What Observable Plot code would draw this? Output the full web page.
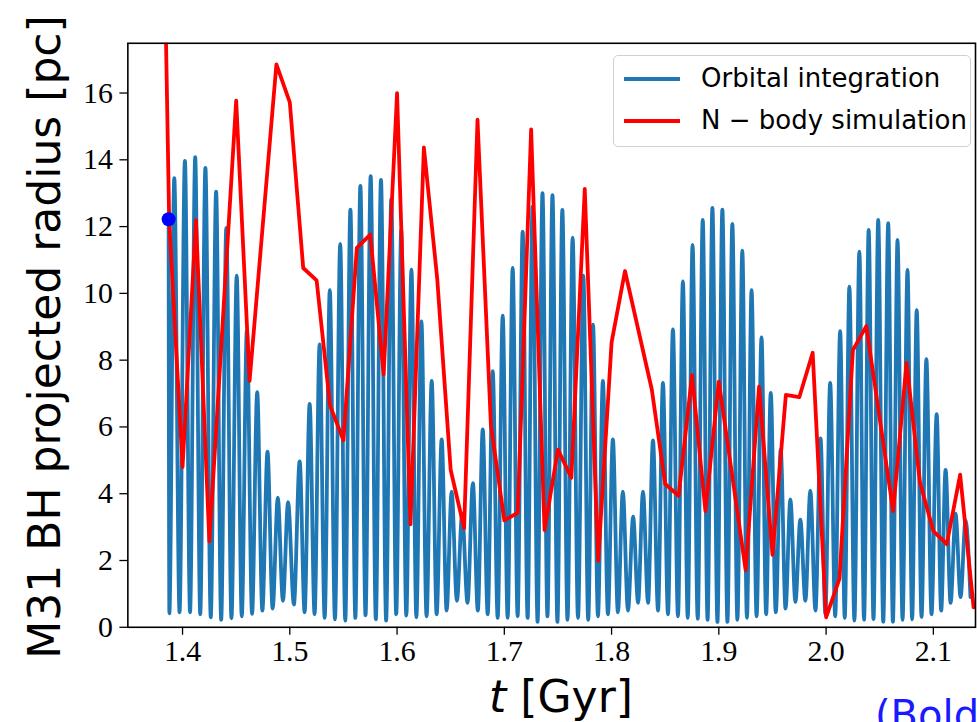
<!DOCTYPE html>
<html>
<head>
<meta charset="utf-8">
<script src="https://cdn.jsdelivr.net/npm/d3@7"></script>
<script src="https://cdn.jsdelivr.net/npm/@observablehq/plot@0.6"></script>
<style>
  html, body { margin: 0; padding: 0; background: #fff; }
  #wrap { position: relative; width: 977px; height: 722px; overflow: hidden; background: #fff; }
  #chart { position: absolute; left: 0; top: 0; }
  .ylab { position: absolute; left: 45px; top: 337px; transform: translate(-50%, -50%) rotate(-90deg);
          white-space: nowrap; font-family: "DejaVu Sans"; font-size: 44px; line-height: 1; color: #000; }
  .xlab { position: absolute; left: 561px; top: 675px; transform: translateX(-50%);
          white-space: nowrap; font-family: "DejaVu Sans"; font-size: 44px; line-height: 1; color: #000; }
  .xlab i { font-style: oblique; }
  .cite { position: absolute; left: 875px; top: 695px; white-space: nowrap; font-family: "DejaVu Sans";
          font-size: 40px; line-height: 1; color: #1a1aff; }
  .legend { position: absolute; left: 613px; top: 55px; width: 358px; height: 92px; box-sizing: border-box;
            border: 1.3px solid #d0d0d0; border-radius: 5px; background: rgba(255,255,255,0.85);
            font-family: "DejaVu Sans"; font-size: 26px; color: #000; }
  .legend .row { position: absolute; left: 0; height: 30px; display: flex; align-items: center; }
  .legend .sw { position: absolute; left: 10px; width: 56px; height: 4px; }
  .legend .tx { position: absolute; left: 87px; white-space: nowrap; line-height: 1; }
</style>
</head>
<body>
<div id="wrap">
  <div id="chart"></div>
  <div class="ylab">M31 BH projected radius [pc]</div>
  <div class="xlab"><i>t</i> [Gyr]</div>
  <div class="cite">(Boldrini et al.)</div>
  <div class="legend" id="legend"></div>
</div>
<script>
// ---- Data ----
const xTicks = [1.4, 1.5, 1.6, 1.7, 1.8, 1.9, 2.0, 2.1];
const yTicks = [0, 2, 4, 6, 8, 10, 12, 14, 16];

const seriesNames = ["Orbital integration", "N \u2212 body simulation"];

// Orbital integration: starting point (also marked with a dot)
const orbitStartT = 1.3870;
const orbitStartR = 12.22;

// Orbital integration: peaks
const peakT = [1.3923, 1.4022, 1.4118, 1.4213, 1.4313, 1.4408, 1.4505, 1.4600, 1.4696, 1.4792,
  1.4888, 1.4984, 1.5092, 1.5185, 1.5278, 1.5373, 1.5470, 1.5565, 1.5658, 1.5754,
  1.5850, 1.5946, 1.6039, 1.6134, 1.6227, 1.6323, 1.6416, 1.6509, 1.6607, 1.6707,
  1.6799, 1.6892, 1.6985, 1.7078, 1.7171, 1.7263, 1.7356, 1.7449, 1.7541, 1.7637,
  1.7737, 1.7827, 1.7919, 1.8012, 1.8105, 1.8201, 1.8293, 1.8386, 1.8479, 1.8572,
  1.8665, 1.8755, 1.8850, 1.8940, 1.9033, 1.9126, 1.9219, 1.9305, 1.9398, 1.9484,
  1.9577, 1.9667, 1.9760, 1.9853, 1.9948, 2.0038, 2.0131, 2.0217, 2.0310, 2.0397,
  2.0486, 2.0579, 2.0666, 2.0759, 2.0845, 2.0935, 2.1031, 2.1114, 2.1207, 2.1300];
const peakR = [13.45, 13.97, 14.08, 13.76, 13.05, 11.96, 10.53, 8.9, 7.04, 5.26,
  3.88, 3.75, 4.97, 6.69, 8.47, 10.10, 11.48, 12.51, 13.22, 13.51,
  13.40, 12.82, 11.9, 10.71, 9.16, 7.38, 5.63, 4.06, 3.4, 4.32,
  5.93, 7.67, 9.33, 10.76, 11.85, 12.6, 13.0, 12.94, 12.5, 11.67,
  10.53, 9.06, 7.38, 5.63, 4.06, 3.31, 4.06, 5.6, 7.32, 8.92,
  10.36, 11.45, 12.2, 12.56, 12.51, 12.08, 11.28, 10.1, 8.68, 7.02,
  5.32, 3.83, 3.22, 4.09, 5.66, 7.32, 8.87, 10.2, 11.25, 11.9,
  12.2, 12.1, 11.6, 10.7, 9.5, 8.03, 6.38, 4.71, 3.4, 3.2];

// Orbital integration: troughs
const troughT = [1.3877, 1.3972, 1.4070, 1.4165, 1.4263, 1.4360, 1.4456, 1.4552, 1.4648, 1.4744,
  1.4840, 1.4936, 1.5038, 1.5138, 1.5231, 1.5325, 1.5421, 1.5517, 1.5611, 1.5706,
  1.5802, 1.5898, 1.5992, 1.6086, 1.6180, 1.6275, 1.6369, 1.6462, 1.6558, 1.6657,
  1.6753, 1.6845, 1.6938, 1.7031, 1.7124, 1.7217, 1.7310, 1.7402, 1.7495, 1.7589,
  1.7687, 1.7782, 1.7873, 1.7966, 1.8059, 1.8153, 1.8247, 1.8340, 1.8433, 1.8526,
  1.8619, 1.8710, 1.8803, 1.8895, 1.8987, 1.9080, 1.9173, 1.9262, 1.9352, 1.9441,
  1.9531, 1.9622, 1.9714, 1.9807, 1.9901, 1.9993, 2.0085, 2.0174, 2.0264, 2.0354,
  2.0442, 2.0533, 2.0623, 2.0713, 2.0802, 2.0890, 2.0983, 2.1073, 2.1161, 2.1254, 2.1346];
const troughR = [0.42, 0.45, 0.45, 0.39, 0.3, 0.22, 0.27, 0.33, 0.4, 0.5,
  0.56, 0.79, 0.68, 0.45, 0.39, 0.28, 0.24, 0.2, 0.28, 0.36,
  0.24, 0.2, 0.39, 0.35, 0.3, 0.33, 0.39, 0.5, 0.79, 0.73,
  0.5, 0.39, 0.28, 0.28, 0.33, 0.28, 0.16, 0.33, 0.16, 0.22,
  0.28, 0.22, 0.33, 0.39, 0.45, 0.5, 0.73, 0.73, 0.5, 0.39,
  0.33, 0.28, 0.25, 0.22, 0.16, 0.16, 0.22, 0.28, 0.33, 0.39,
  0.45, 0.56, 0.76, 0.79, 0.5, 0.4, 0.33, 0.28, 0.2, 0.22,
  0.24, 0.16, 0.16, 0.22, 0.24, 0.31, 0.39, 0.5, 0.73, 0.9, 0.9];

// N-body simulation
const nbodyT = [1.375, 1.3875, 1.4, 1.4125, 1.425, 1.45, 1.4625, 1.4875, 1.5, 1.5125,
  1.525, 1.5375, 1.55, 1.5625, 1.575, 1.5875, 1.6, 1.6125, 1.625, 1.6375,
  1.65, 1.6625, 1.675, 1.6875, 1.7, 1.7125, 1.725, 1.7375, 1.75, 1.7625,
  1.775, 1.7875, 1.8, 1.8125, 1.8375, 1.85, 1.8625, 1.875, 1.8875, 1.9,
  1.925, 1.9375, 1.95, 1.9625, 1.975, 1.9875, 2.0, 2.0125, 2.025, 2.0375,
  2.0625, 2.075, 2.0875, 2.1, 2.1125, 2.125, 2.1375];
const nbodyR = [35, 12.22, 4.8, 12.19, 2.57, 15.77, 7.38, 16.86, 15.72, 10.76,
  10.39, 6.64, 5.6, 11.36, 11.76, 7.57, 16.0, 3.08, 14.37, 10.42,
  4.71, 2.97, 15.2, 6.06, 3.2, 3.43, 14.91, 2.91, 5.32, 4.48,
  13.13, 1.99, 8.53, 10.67, 7.12, 4.29, 3.94, 7.55, 3.48, 7.36,
  1.71, 7.21, 2.17, 6.96, 6.89, 8.22, 0.30, 1.46, 8.30, 9.02,
  3.48, 7.92, 4.34, 2.88, 2.49, 4.57, 0.6];

const colors = ["#1f77b4", "#ff0000"];

// ---- Build tables ----
const orbit = [{t: orbitStartT, r: orbitStartR}]
  .concat(peakT.map((t, i) => ({t, r: peakR[i]})))
  .concat(troughT.map((t, i) => ({t, r: troughR[i]})))
  .sort((a, b) => a.t - b.t);
const nbody = nbodyT.map((t, i) => ({t, r: nbodyR[i]}));
const startDot = [{t: orbitStartT, r: orbitStartR}];

const chart = Plot.plot({
  width: 982,
  height: 722,
  marginLeft: 128,
  marginRight: 2,
  marginTop: 43,
  marginBottom: 92,
  style: {fontFamily: "'Liberation Serif', serif", fontSize: "30px", color: "#000", background: "transparent", overflow: "visible"},
  x: {domain: [1.349, 2.1393]},
  y: {domain: [0, 17.49]},
  marks: [
    Plot.axisX({ticks: xTicks, tickFormat: d3.format(".1f"), tickSize: 8, tickPadding: 5, label: null, stroke: "#000", strokeWidth: 1.3}),
    Plot.axisY({ticks: yTicks, tickFormat: d3.format("d"), tickSize: 8, tickPadding: 7, label: null, stroke: "#000", strokeWidth: 1.3}),
    Plot.line(orbit, {x: "t", y: "r", stroke: colors[0], strokeWidth: 3.8, curve: "monotone-x", clip: true}),
    Plot.line(nbody, {x: "t", y: "r", stroke: colors[1], strokeWidth: 3.8, clip: true}),
    Plot.dot(startDot, {x: "t", y: "r", r: 7, fill: "#0000ff", stroke: "none"}),
    Plot.frame({stroke: "#000", strokeWidth: 1.6})
  ]
});
document.getElementById("chart").appendChild(chart);

// ---- Legend ----
const legend = document.getElementById("legend");
const rowsY = [23, 65];
seriesNames.forEach((name, i) => {
  const sw = document.createElement("div");
  sw.className = "sw";
  sw.style.top = (rowsY[i] - 2) + "px";
  sw.style.background = colors[i];
  legend.appendChild(sw);
  const tx = document.createElement("div");
  tx.className = "tx";
  tx.style.top = (rowsY[i] - 14) + "px";
  tx.textContent = name;
  legend.appendChild(tx);
});
</script>
</body>
</html>
